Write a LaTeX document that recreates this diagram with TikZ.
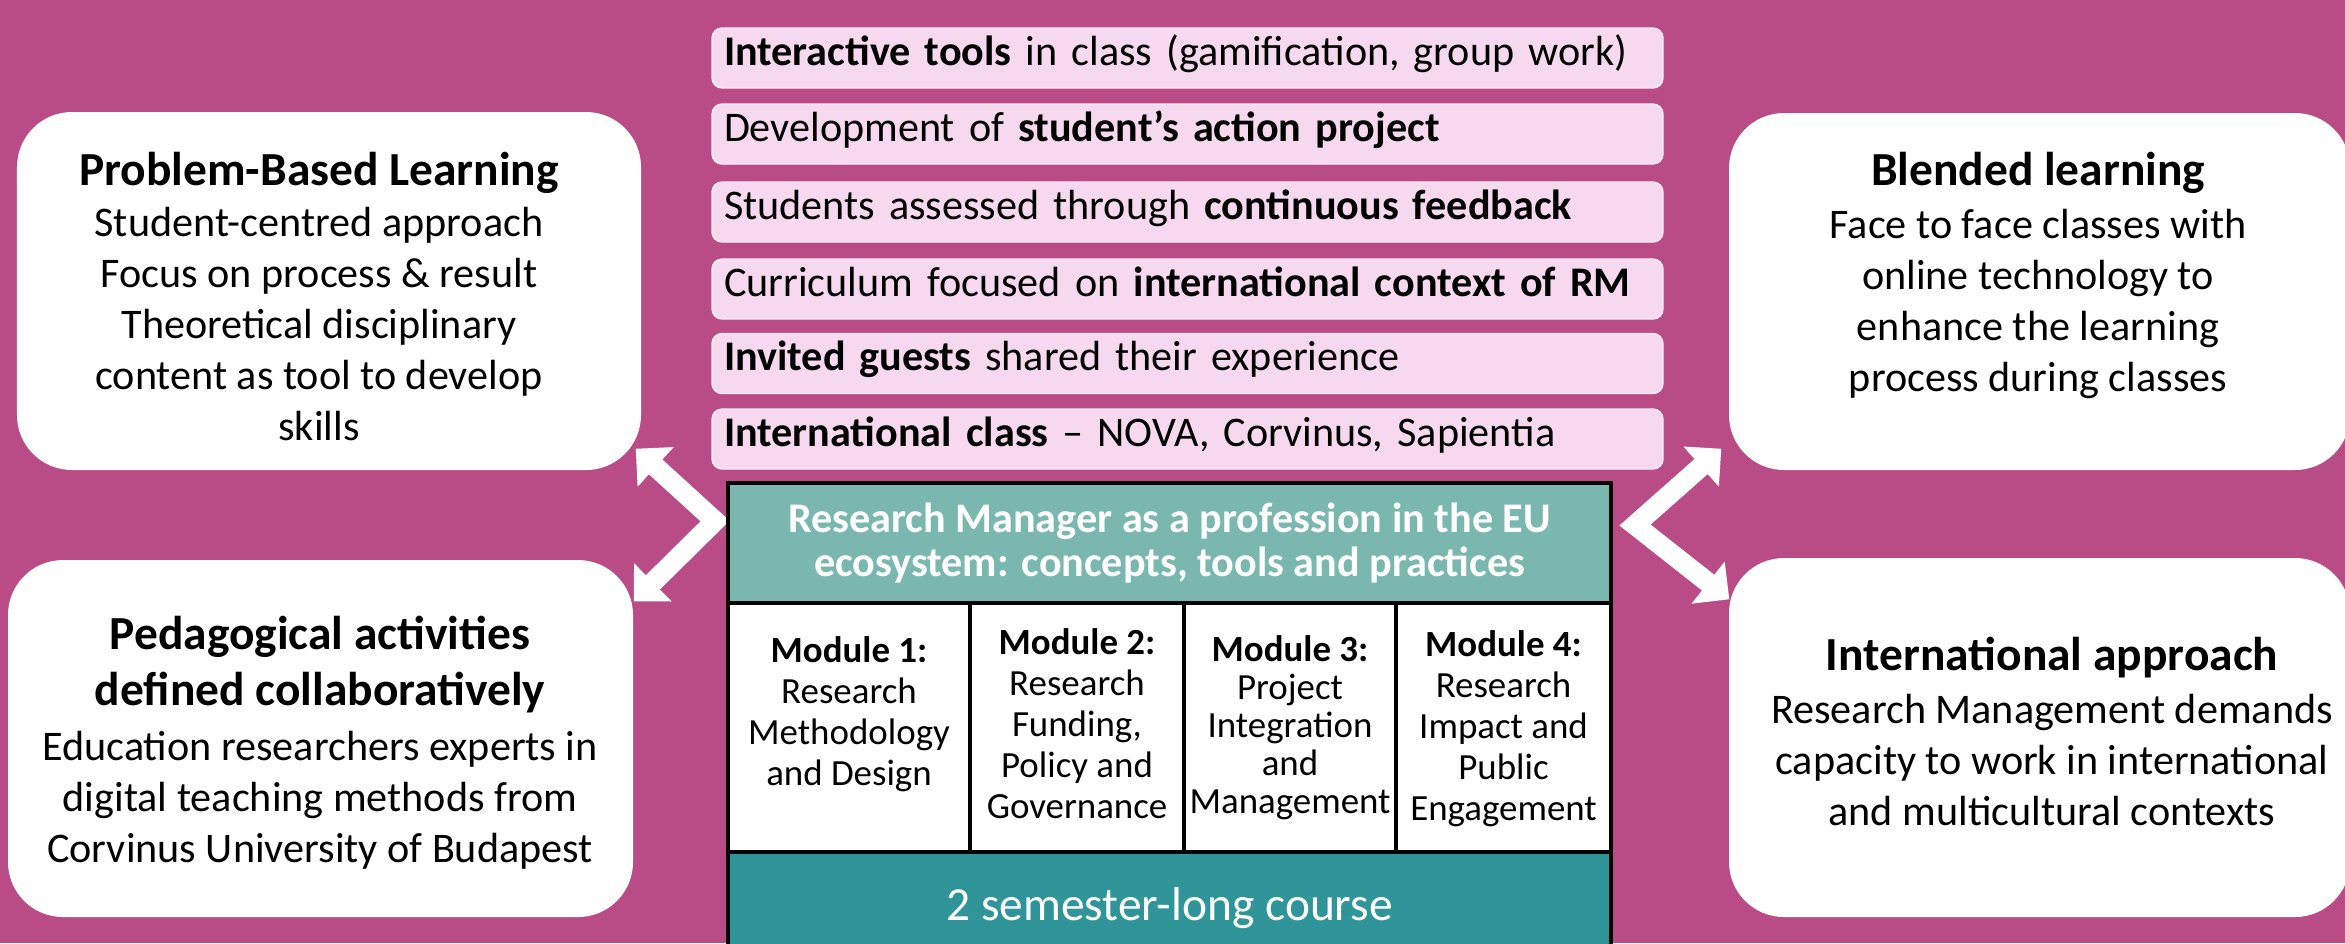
\documentclass[tikz,border=0pt]{standalone}
\usepackage{fontspec}
\setmainfont{Carlito}
\usetikzlibrary{arrows.meta,calc}

\definecolor{bgpink}{HTML}{B94C87}
\definecolor{lightpink}{HTML}{F6D9EE}
\definecolor{paleteal}{HTML}{7AB8AF}
\definecolor{darkteal}{HTML}{2F9598}

\newcommand{\sidetitle}{\fontsize{13.5}{16}\selectfont\bfseries}

\tikzset{
  sidebox/.style={rounded corners=0.55cm, fill=white, inner sep=0pt},
  sidetext/.style={align=center, anchor=base, inner sep=0pt, font=\fontsize{12}{14.5}\selectfont},
  itembox/.style={rounded corners=0.1cm, fill=lightpink, draw=lightpink!50!white, line width=0.4pt,
    text width=9.27cm, align=left, inner xsep=0.12cm, inner ysep=0pt, minimum height=0.6cm,
    text height=0.3cm, text depth=0.16cm, font=\fontsize{12}{14}\selectfont},
  titlebox/.style={draw=black, line width=0.9pt, fill=paleteal, text=white, align=center,
    minimum width=8.83cm, minimum height=1.2cm, font=\fontsize{12}{12.8}\selectfont\bfseries},
  modcell/.style={draw=black, line width=0.9pt, fill=white, minimum height=2.49cm, inner sep=0pt},
  modtext/.style={align=center, anchor=base, inner sep=0pt, font=\fontsize{10.5}{11.6}\selectfont},
  basebox/.style={draw=black, line width=0.9pt, fill=darkteal, text=white, minimum width=8.83cm,
    minimum height=1.12cm, font=\fontsize{13.5}{16}\selectfont},
  twoway/.style={draw=white, line width=0.2cm, line join=miter,
    {Triangle[length=0.27cm,width=0.52cm]}-{Triangle[length=0.27cm,width=0.52cm]}}
}

\begin{document}
\begin{tikzpicture}
    \useasboundingbox (0,0) rectangle (23.45,-9.43);
    \fill[bgpink] (0,0) rectangle (23.45,-9.43);

    % Activities
    \node[itembox] (act1) at (11.875,-0.58) {\textbf{Interactive tools} in class (gamification, group work)};
    \node[itembox] (act2) at (11.875,-1.34) {Development of \textbf{student’s action project}};
    \node[itembox] (act3) at (11.875,-2.12) {Students assessed through \textbf{continuous feedback}};
    \node[itembox] (act4) at (11.875,-2.89) {Curriculum focused on \textbf{international context of RM}};
    \node[itembox] (act5) at (11.875,-3.635) {\textbf{Invited guests} shared their experience};
    \node[itembox] (act6) at (11.875,-4.39) {\textbf{International class} – NOVA, Corvinus, Sapientia};

    % Side boxes
    \node[sidebox, minimum width=6.24cm, minimum height=3.58cm] (pbl) at (3.29,-2.91) {};
    \node[sidebox, minimum width=6.25cm, minimum height=3.57cm] (ped) at (3.205,-7.385) {};
    \node[sidebox, minimum width=6.21cm, minimum height=3.57cm] (blend) at (20.395,-2.915) {};
    \node[sidebox, minimum width=6.21cm, minimum height=3.59cm] (intl) at (20.395,-7.375) {};

    \node[sidetext] (pblText) at (3.19,-4.40) {{\sidetitle Problem-Based Learning}\\
        Student-centred approach\\Focus on process \& result\\Theoretical disciplinary\\
        content as tool to develop\\skills};
    \node[sidetext] (pedText) at (3.20,-8.62) {{\sidetitle Pedagogical activities}\\[1.4pt]
        {\sidetitle defined collaboratively}\\[1.1pt]
        Education researchers experts in\\digital teaching methods from\\Corvinus University of Budapest};
    \node[sidetext] (blendText) at (20.38,-3.91) {{\sidetitle Blended learning}\\[0.6pt]
        Face to face classes with\\online technology to\\enhance the learning\\process during classes};
    \node[sidetext] (intlText) at (20.52,-8.25) {{\sidetitle International approach}\\[0.6pt]
        Research Management demands\\capacity to work in international\\and multicultural contexts};

    % Links
    \coordinate (pblTip) at ($(pbl.south east)+(-0.06,0.22)$);
    \coordinate (pedTip) at ($(ped.north east)+(0,-0.42)$);
    \coordinate (blendTip) at ($(blend.south west)+(-0.07,0.22)$);
    \coordinate (intlTip) at ($(intl.north west)+(0.01,-0.42)$);
    \coordinate (leftApex) at (7.15,-5.21);
    \coordinate (rightApex) at (16.35,-5.25);
    \draw[twoway] (pblTip) -- (leftApex) -- (pedTip);
    \draw[twoway] (blendTip) -- (rightApex) -- (intlTip);

    % Course
    \node[titlebox] (course) at (11.695,-5.43) {Research Manager as a profession in the EU\\ecosystem: concepts, tools and practices};
    \node[modcell, minimum width=2.42cm] (cell1) at (8.49,-7.275) {};
    \node[modcell, minimum width=2.14cm] (cell2) at (10.77,-7.275) {};
    \node[modcell, minimum width=2.12cm] (cell3) at (12.90,-7.275) {};
    \node[modcell, minimum width=2.15cm] (cell4) at (15.035,-7.275) {};
    \node[modtext] (mod1) at (8.49,-7.85) {\textbf{Module 1:}\\Research\\Methodology\\and Design};
    \node[modtext] (mod2) at (10.77,-8.18) {\textbf{Module 2:}\\Research\\Funding,\\Policy and\\Governance};
    \node[modtext, font=\fontsize{10.5}{10.8}\selectfont] (mod3) at (12.90,-8.13) {\textbf{Module 3:}\\Project\\Integration\\and\\Management};
    \node[modtext] (mod4) at (15.035,-8.20) {\textbf{Module 4:}\\Research\\Impact and\\Public\\Engagement};
    \node[basebox] (length) at (11.695,-9.08) {2 semester-long course};
\end{tikzpicture}
\end{document}
